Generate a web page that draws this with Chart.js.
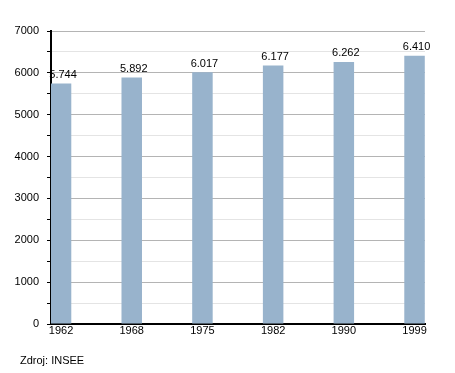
<!DOCTYPE html>
<html>
<head>
<meta charset="utf-8">
<script src="https://cdn.jsdelivr.net/npm/chart.js@4/dist/chart.umd.min.js"></script>
<style>
  body { margin: 0; background: #fff; }
  .wrap { position: relative; width: 455px; height: 373px; }
  .src { position: absolute; left: 20px; top: 354px; font: 11px "Liberation Sans", Arial, sans-serif; color: #000; }
</style>
</head>
<body>
<div class="wrap">
  <canvas id="popChart" width="455" height="373"></canvas>
  <div class="src">Zdroj: INSEE</div>
</div>
<script>
var years = ["1962", "1968", "1975", "1982", "1990", "1999"];
var population = [5744, 5892, 6017, 6177, 6262, 6410];
var valueLabels = ["5.744", "5.892", "6.017", "6.177", "6.262", "6.410"];
var yTicks = [0, 1000, 2000, 3000, 4000, 5000, 6000, 7000];

// labels above each bar
var barLabels = {
  id: "barLabels",
  afterDatasetsDraw: function(chart) {
    var ctx = chart.ctx;
    var meta = chart.getDatasetMeta(0);
    ctx.save();
    ctx.font = '11px "Liberation Sans", Arial, sans-serif';
    ctx.fillStyle = "#000";
    ctx.textAlign = "center";
    ctx.textBaseline = "bottom";
    meta.data.forEach(function(bar, i) {
      ctx.fillText(valueLabels[i], bar.x + 2, bar.y - 3);
    });
    ctx.restore();
  }
};

var ctxP = document.getElementById("popChart").getContext("2d");
new Chart(ctxP, {
  type: "bar",
  data: {
    datasets: [{
      data: population.map(function(v, i) { return { x: i, y: v }; }),
      backgroundColor: "#98b3cc",
      borderWidth: 0,
      barPercentage: 0.29,
      categoryPercentage: 1
    }]
  },
  plugins: [barLabels],
  options: {
    responsive: false,
    animation: false,
    layout: { padding: { left: 0, right: 30, top: 31, bottom: 29 } },
    plugins: { legend: { display: false }, tooltip: { enabled: false } },
    scales: {
      x: {
        type: "linear",
        offset: false,
        min: -0.142,
        max: 5.148,
        afterBuildTicks: function(scale) {
          scale.ticks = years.map(function(y, i) { return { value: i }; });
        },
        afterFit: function(scale) { scale.height = 20; },
        ticks: {
          autoSkip: false,
          maxRotation: 0,
          padding: 0,
          color: "#000",
          font: { family: '"Liberation Sans", Arial, sans-serif', size: 11 },
          callback: function(v) { return years[v]; }
        },
        grid: { display: false, drawTicks: false, offset: false },
        border: { color: "#000", width: 2 }
      },
      y: {
        min: 0,
        max: 7000,
        afterBuildTicks: function(scale) {
          var t = [];
          for (var v = 0; v <= 7000; v += 500) t.push({ value: v });
          scale.ticks = t;
        },
        afterFit: function(scale) { scale.width = 51; },
        ticks: {
          padding: 8,
          color: "#000",
          font: { family: '"Liberation Sans", Arial, sans-serif', size: 11 },
          callback: function(v) { return yTicks.indexOf(v) >= 0 ? String(v) : ""; }
        },
        grid: {
          color: function(c) { return c.tick && c.tick.value % 1000 === 0 ? "#b4b4b4" : "#e4e4e4"; },
          lineWidth: 1,
          tickLength: 4,
          tickColor: "#000"
        },
        border: { color: "#000", width: 2 }
      }
    }
  }
});
</script>
</body>
</html>
